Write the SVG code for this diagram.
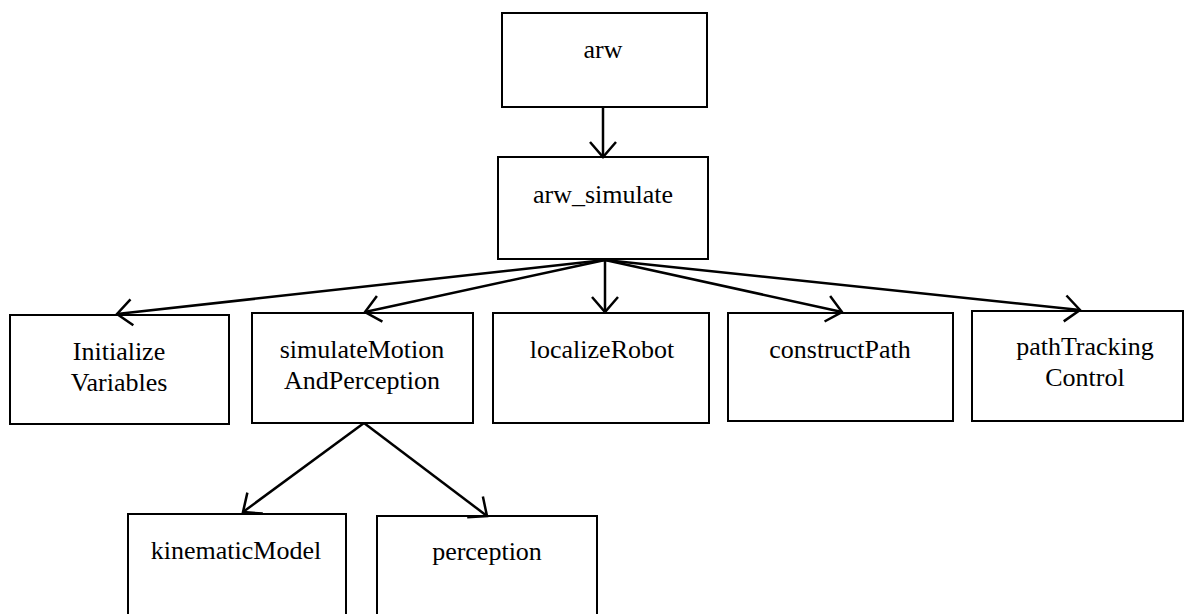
<svg xmlns="http://www.w3.org/2000/svg" width="1185" height="614" viewBox="0 0 1185 614">
  <style>
    .box { fill: #ffffff; stroke: #000000; stroke-width: 2; }
    .lbl { font-family: "Liberation Serif", "Times New Roman", serif; font-size: 26px; fill: #000000; text-anchor: middle; }
    .conn { stroke: #000000; stroke-width: 2.5; fill: none; }
  </style>
  <defs>
    <marker id="arr" markerUnits="userSpaceOnUse" markerWidth="34" markerHeight="34" refX="17" refY="17" orient="auto">
      <path d="M2,4 L17,17 L2,30" fill="none" stroke="#000000" stroke-width="2.5"/>
    </marker>
  </defs>
  <rect width="1185" height="614" fill="#ffffff"/>

  <g id="arw">
    <rect class="box" x="502" y="13" width="205" height="94"/>
    <text class="lbl" x="603" y="58">arw</text>
  </g>
  <g id="arw_simulate">
    <rect class="box" x="498" y="157" width="210" height="102"/>
    <text class="lbl" x="603" y="203">arw_simulate</text>
  </g>
  <g id="initializeVariables">
    <rect class="box" x="10" y="315" width="219" height="109"/>
    <text class="lbl" x="119" y="360">Initialize</text>
    <text class="lbl" x="119" y="391">Variables</text>
  </g>
  <g id="simulateMotionAndPerception">
    <rect class="box" x="252" y="313" width="221" height="110"/>
    <text class="lbl" x="362" y="358">simulateMotion</text>
    <text class="lbl" x="362" y="389">AndPerception</text>
  </g>
  <g id="localizeRobot">
    <rect class="box" x="493" y="313" width="216" height="110"/>
    <text class="lbl" x="602" y="358">localizeRobot</text>
  </g>
  <g id="constructPath">
    <rect class="box" x="728" y="313" width="225" height="108"/>
    <text class="lbl" x="840" y="358">constructPath</text>
  </g>
  <g id="pathTrackingControl">
    <rect class="box" x="972" y="311" width="211" height="110"/>
    <text class="lbl" x="1085" y="355">pathTracking</text>
    <text class="lbl" x="1085" y="386">Control</text>
  </g>
  <g id="kinematicModel">
    <rect class="box" x="128" y="514" width="218" height="110"/>
    <text class="lbl" x="236" y="559">kinematicModel</text>
  </g>
  <g id="perception">
    <rect class="box" x="377" y="516" width="220" height="110"/>
    <text class="lbl" x="487" y="560">perception</text>
  </g>

  <g id="connectors">
    <line class="conn" x1="603" y1="107" x2="603" y2="157" marker-end="url(#arr)"/>
    <line class="conn" x1="605" y1="260" x2="117" y2="314" marker-end="url(#arr)"/>
    <line class="conn" x1="605" y1="260" x2="365" y2="312" marker-end="url(#arr)"/>
    <line class="conn" x1="605" y1="260" x2="605" y2="312" marker-end="url(#arr)"/>
    <line class="conn" x1="605" y1="260" x2="842" y2="312" marker-end="url(#arr)"/>
    <line class="conn" x1="605" y1="260" x2="1080" y2="310" marker-end="url(#arr)"/>
    <line class="conn" x1="364" y1="423" x2="243" y2="512" marker-end="url(#arr)"/>
    <line class="conn" x1="364" y1="423" x2="487" y2="516" marker-end="url(#arr)"/>
  </g>
</svg>
